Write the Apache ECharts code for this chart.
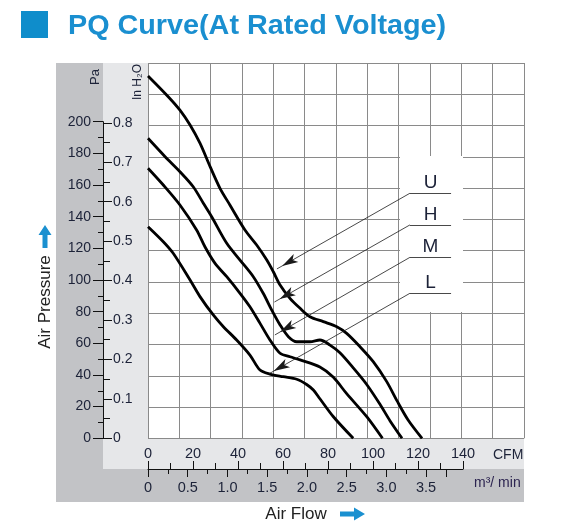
<!DOCTYPE html>
<html>
<head>
<meta charset="utf-8">
<script src="https://cdn.jsdelivr.net/npm/echarts@6/dist/echarts.min.js"></script>
<style>html,body{margin:0;padding:0;background:#fff;}#c{width:570px;height:532px;}</style>
</head>
<body>
<div id="c"></div>
<script>
// ---- data (CFM vs Pa) ----
const cfmU = [0, 9.0, 14.2, 18.7, 23.1, 27.6, 32.0, 36.4, 43.1, 48.3, 52.8, 55.7, 58.7, 63.1, 67.6, 72.0, 77.9, 83.9, 88.3, 94.2, 100.1, 106.1, 110.7, 115.6, 121.8];
const paU  = [228.9, 215.8, 207.3, 197.9, 186.4, 171.6, 157.9, 147.4, 131.6, 122.1, 112.6, 105.2, 96.8, 88.4, 82.1, 76.8, 73.7, 70.5, 66.3, 57.9, 48.4, 35.8, 23.6, 11.6, 0];
const cfmH = [0, 7.6, 14.2, 20.1, 24.6, 28.3, 35.0, 40.9, 46.8, 51.2, 55.0, 58.7, 62.4, 66.1, 72.0, 76.4, 80.9, 85.3, 91.2, 97.2, 103.1, 107.6, 112.9];
const paH  = [189.5, 177.9, 168.4, 158.9, 148.5, 140.0, 123.2, 112.6, 102.1, 91.6, 81.0, 71.6, 64.2, 61.0, 61.0, 62.1, 58.9, 54.0, 44.5, 34.0, 21.5, 11.0, 0];
const cfmM = [0, 6.8, 14.2, 21.6, 25.3, 29.8, 35.0, 40.9, 45.3, 49.8, 54.2, 58.7, 63.1, 67.6, 76.4, 82.4, 88.3, 97.3, 104.2];
const paM  = [170.6, 160.0, 147.4, 131.6, 121.0, 110.5, 102.1, 91.6, 83.1, 72.6, 62.1, 53.7, 51.5, 49.5, 45.0, 38.5, 28.2, 13.5, 0];
const cfmL = [0, 6.8, 11.2, 18.7, 23.1, 29.0, 33.5, 39.4, 45.3, 49.8, 54.2, 60.1, 66.1, 70.5, 73.5, 76.4, 82.4, 91.2];
const paL  = [133.7, 124.2, 116.9, 100.0, 89.5, 77.9, 70.5, 62.1, 52.6, 43.1, 40.6, 38.9, 37.3, 34.0, 30.5, 25.0, 13.6, 0];

// annotation (in data units: CFM, Pa)
const annoNames = ['U', 'H', 'M', 'L'];
const annoPa = [154.8, 134.8, 114.3, 91.6];
const annoFlowStart = 116.4;
const annoFlowEnd = 134.7;
const tipCfm = [57.3, 56.2, 56.4, 53.6];
const tipPa = [107.0, 86.1, 65.3, 40.6];
const boxCfm = [112.0, 140.0];
const boxPa = [178.3, 79.8];

// axis ranges / ticks
const cfmTicks = { min: 0, max: 140, interval: 20 };
const m3Ticks = { min: 0, max: 3.75, interval: 0.5 };
const paTicks = { min: 0, max: 200, interval: 20 };
const inTicks = { min: 0, max: 0.8, interval: 0.1 };
const CFM_TO_M3 = 0.0283168;
const PA_PER_INH2O = 249.089;

// ---- layout ----
const PX_PER_CFM = 2.25;
const PX_PER_PA = 1.583;
const plotL = 148, plotT = 63, plotW = 376, y0 = 438.3;
const plotH = y0 - plotT;
const dataMaxCfm = plotW / PX_PER_CFM;
const dataMaxPa = plotH / PX_PER_PA;
const m3W = m3Ticks.max / CFM_TO_M3 * PX_PER_CFM;
const paH_px = paTicks.max * PX_PER_PA;
const inH_px = inTicks.max * PA_PER_INH2O * PX_PER_PA;

const txt = '#1c2238';
const ff = 'Liberation Sans, Arial, sans-serif';
const zip = (a, b) => a.map((v, i) => [v, b[i]]);
const fmt1 = v => (v === 0 ? '0' : v.toFixed(1));

const curveBase = {
  type: 'line', xAxisIndex: 0, yAxisIndex: 0, symbol: 'none', showSymbol: false,
  smooth: 0.3, z: 3, silent: true,
  lineStyle: { color: '#000', width: 2.8 }
};

const annoLines = [];
annoNames.forEach((n, i) => {
  const lab = { show: true, formatter: n, position: 'insideMiddleTop', distance: 1, fontSize: 19, color: txt, fontFamily: ff };
  annoLines.push([
    { coord: [annoFlowStart, annoPa[i]], symbol: 'none', label: lab },
    { coord: [annoFlowEnd, annoPa[i]], symbol: 'none', label: lab }
  ]);
  annoLines.push([
    { coord: [annoFlowStart, annoPa[i]], symbol: 'none' },
    { coord: [tipCfm[i], tipPa[i]], symbol: 'arrow', symbolSize: [7, 16], symbolOffset: [0, 6] }
  ]);
});

const hiddenAxis = (g, extra) => Object.assign({ gridIndex: g, type: 'value', show: false, min: 0, max: 1 }, extra || {});

const option = {
  animation: false,
  backgroundColor: '#fff',
  graphic: [
    { type: 'rect', z: -10, shape: { x: 56, y: 63, width: 468, height: 439 }, style: { fill: '#c2c3c6' }, silent: true },
    { type: 'rect', z: -9, shape: { x: 103, y: 63, width: 421, height: 406 }, style: { fill: '#e6e7e9' }, silent: true },
    { type: 'rect', z: -8, shape: { x: plotL, y: plotT, width: plotW, height: plotH }, style: { fill: '#fff' }, silent: true },
    { type: 'rect', shape: { x: 21, y: 11, width: 27, height: 27 }, style: { fill: '#0f8dcb' }, silent: true },
    { type: 'text', x: 68, y: 26, scaleX: 1.027, style: { text: 'PQ Curve(At Rated Voltage)', fill: '#1a8fd0', font: 'bold 28px ' + ff, verticalAlign: 'middle' }, silent: true },
    { type: 'text', x: 95, y: 77, rotation: Math.PI / 2, style: { text: 'Pa', fill: txt, font: '13px ' + ff, align: 'center', verticalAlign: 'middle' }, silent: true },
    { type: 'text', x: 137.5, y: 82, rotation: Math.PI / 2, style: { text: 'In H\u2082O', fill: txt, font: '12px ' + ff, align: 'center', verticalAlign: 'middle' }, silent: true },
    { type: 'text', x: 493, y: 455, style: { text: 'CFM', fill: txt, font: '14px ' + ff, verticalAlign: 'middle' }, silent: true },
    { type: 'text', x: 474, y: 483, style: { text: 'm\u00b3/ min', fill: '#2c2450', font: '14px ' + ff, verticalAlign: 'middle' }, silent: true },
    { type: 'text', x: 45, y: 302, rotation: Math.PI / 2, style: { text: 'Air Pressure', fill: '#222', font: '17px ' + ff, align: 'center', verticalAlign: 'middle' }, silent: true },
    { type: 'polygon', shape: { points: [[45, 225], [51.5, 235], [47.5, 235], [47.5, 248], [42.5, 248], [42.5, 235], [38.5, 235]] }, style: { fill: '#1a90d0' }, silent: true },
    { type: 'text', x: 296, y: 514, style: { text: 'Air Flow', fill: '#222', font: '17px ' + ff, align: 'center', verticalAlign: 'middle' }, silent: true },
    { type: 'polygon', shape: { points: [[365, 514], [354, 507.5], [354, 511.5], [340, 511.5], [340, 516.5], [354, 516.5], [354, 520.5]] }, style: { fill: '#1a90d0' }, silent: true }
  ],
  grid: [
    { left: plotL, top: plotT, width: plotW, height: plotH },
    { left: plotL, top: plotT, width: plotW, height: plotH },
    { left: plotL, top: y0, width: cfmTicks.max * PX_PER_CFM, height: 30.7 },
    { left: plotL, top: y0, width: m3W, height: 30.7 },
    { left: 103, top: y0 - paH_px, width: 45, height: paH_px },
    { left: 103, top: y0 - inH_px, width: 45, height: inH_px }
  ],
  xAxis: [
    hiddenAxis(0, { max: dataMaxCfm }),
    { gridIndex: 1, type: 'value', min: 0, max: 12, interval: 1,
      axisLine: { show: false }, axisTick: { show: false }, axisLabel: { show: false },
      splitLine: { show: true, lineStyle: { color: '#8a8a8a', width: 1 } } },
    { gridIndex: 2, type: 'value', position: 'bottom', min: cfmTicks.min, max: cfmTicks.max, interval: cfmTicks.interval,
      axisLine: { show: true, onZero: false, lineStyle: { color: '#111', width: 1 } },
      axisTick: { show: true, inside: true, length: 8, lineStyle: { color: '#111', width: 1 } },
      minorTick: { show: true, splitNumber: 2, length: 6, lineStyle: { color: '#111', width: 1 } },
      axisLabel: { show: true, inside: true, margin: 8, fontSize: 14.5, color: txt, fontFamily: ff },
      splitLine: { show: false } },
    { gridIndex: 3, type: 'value', position: 'bottom', min: m3Ticks.min, max: m3Ticks.max, interval: m3Ticks.interval,
      axisLine: { show: false, onZero: false },
      axisTick: { show: true, length: 8, lineStyle: { color: '#111', width: 1 } },
      minorTick: { show: true, splitNumber: 2, length: 5, lineStyle: { color: '#111', width: 1 } },
      axisLabel: { show: true, margin: 11, fontSize: 14.5, color: txt, fontFamily: ff, formatter: fmt1 },
      splitLine: { show: false } },
    hiddenAxis(4),
    hiddenAxis(5)
  ],
  yAxis: [
    hiddenAxis(0, { max: dataMaxPa }),
    { gridIndex: 1, type: 'value', min: 0, max: 12, interval: 1,
      axisLine: { show: false }, axisTick: { show: false }, axisLabel: { show: false },
      splitLine: { show: true, lineStyle: { color: '#8a8a8a', width: 1 } } },
    hiddenAxis(2),
    hiddenAxis(3),
    { gridIndex: 4, type: 'value', position: 'left', min: paTicks.min, max: paTicks.max, interval: paTicks.interval,
      axisLine: { show: true, onZero: false, lineStyle: { color: '#111', width: 1 } },
      axisTick: { show: true, length: 10, lineStyle: { color: '#111', width: 1 } },
      minorTick: { show: true, splitNumber: 2, length: 5, lineStyle: { color: '#111', width: 1 } },
      axisLabel: { show: true, margin: 12, fontSize: 14, color: txt, fontFamily: ff },
      splitLine: { show: false } },
    { gridIndex: 5, type: 'value', position: 'left', min: inTicks.min, max: inTicks.max, interval: inTicks.interval,
      axisLine: { show: true, onZero: false, lineStyle: { color: '#111', width: 1 } },
      axisTick: { show: true, inside: true, length: 9, lineStyle: { color: '#111', width: 1 } },
      minorTick: { show: true, splitNumber: 2, length: 7, lineStyle: { color: '#111', width: 1 } },
      axisLabel: { show: true, inside: true, margin: 10, fontSize: 14, color: txt, fontFamily: ff, formatter: fmt1 },
      splitLine: { show: false } }
  ],
  series: [
    Object.assign({}, curveBase, { name: 'U', data: zip(cfmU, paU) }),
    Object.assign({}, curveBase, { name: 'H', data: zip(cfmH, paH) }),
    Object.assign({}, curveBase, { name: 'M', data: zip(cfmM, paM) }),
    Object.assign({}, curveBase, {
      name: 'L', data: zip(cfmL, paL),
      markArea: { silent: true, itemStyle: { color: '#fff' }, label: { show: false },
        data: [[{ coord: [boxCfm[0], boxPa[0]] }, { coord: [boxCfm[1], boxPa[1]] }]] },
      markLine: { silent: true, animation: false, symbol: 'none',
        label: { show: false },
        lineStyle: { color: '#1a1a1a', width: 0.8, type: 'solid', opacity: 1 },
        emphasis: { disabled: true },
        data: annoLines }
    })
  ]
};

const chart = echarts.init(document.getElementById('c'), null, { renderer: 'canvas' });
chart.setOption(option);
</script>
</body>
</html>
